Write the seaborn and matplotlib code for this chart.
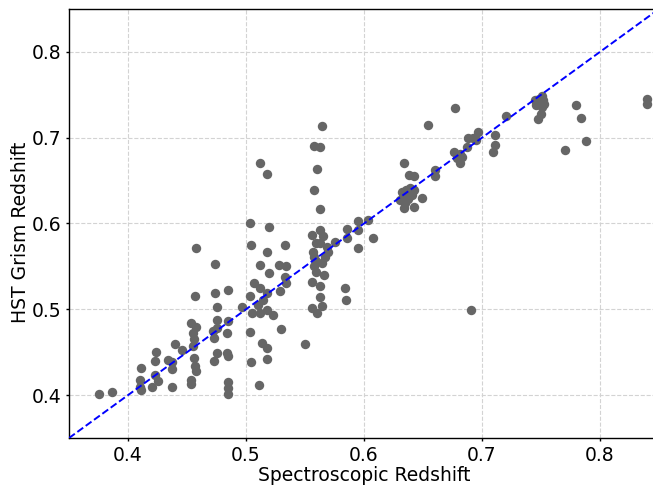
import matplotlib
matplotlib.use("Agg")
import matplotlib.pyplot as plt
import seaborn as sns
import pandas as pd

# Redshifts (spec-z vs grism-z)
spec_z = [
    0.375, 0.3865, 0.411, 0.410, 0.410, 0.411, 0.420, 0.423, 0.424, 0.423,
    0.425, 0.434, 0.437, 0.437, 0.440, 0.446, 0.437, 0.453, 0.458, 0.455,
    0.456, 0.455, 0.456, 0.457, 0.458, 0.453, 0.453, 0.457, 0.458, 0.474,
    0.474, 0.475, 0.475, 0.475, 0.472, 0.473, 0.475, 0.473, 0.485, 0.485,
    0.484, 0.484, 0.485, 0.485, 0.485, 0.485,
    0.497, 0.503, 0.5035, 0.5045, 0.5035, 0.5045, 0.507, 0.505, 0.510, 0.512,
    0.512, 0.514, 0.512, 0.511, 0.512, 0.518, 0.5195, 0.518, 0.5195, 0.518,
    0.518, 0.5135, 0.518, 0.518, 0.523, 0.528, 0.529, 0.5295, 0.533, 0.534,
    0.533, 0.534, 0.550,
    0.558, 0.5625, 0.564, 0.560, 0.5575, 0.563, 0.556, 0.563, 0.565, 0.559,
    0.5625, 0.557, 0.5575, 0.559, 0.5575, 0.559, 0.564, 0.567, 0.5695, 0.569,
    0.575, 0.5665, 0.556, 0.5625, 0.5625, 0.564, 0.556, 0.560, 0.584, 0.585,
    0.586, 0.586, 0.595, 0.595, 0.595, 0.6035, 0.608,
    0.634, 0.638, 0.642, 0.632, 0.636, 0.639, 0.642, 0.633, 0.637, 0.641,
    0.635, 0.634, 0.642, 0.649, 0.6305, 0.6605, 0.6605,
    0.677, 0.6545, 0.6765, 0.681, 0.6785, 0.681, 0.683, 0.6875, 0.688, 0.692,
    0.697, 0.695, 0.711, 0.711, 0.709, 0.720, 0.691,
    0.7447, 0.748, 0.751, 0.752, 0.746, 0.751, 0.750, 0.7475, 0.7525,
    0.780, 0.784, 0.788, 0.770, 0.8397, 0.8397,
]
grism_z = [
    0.401, 0.404, 0.432, 0.418, 0.410, 0.406, 0.410, 0.4395, 0.450, 0.424,
    0.417, 0.441, 0.430, 0.410, 0.460, 0.452, 0.438, 0.484, 0.479, 0.472,
    0.465, 0.457, 0.443, 0.434, 0.428, 0.418, 0.413, 0.516, 0.572, 0.553,
    0.519, 0.503, 0.488, 0.478, 0.475, 0.467, 0.449, 0.4395, 0.522, 0.486,
    0.472, 0.449, 0.445, 0.415, 0.4085, 0.401,
    0.503, 0.473, 0.516, 0.439, 0.601, 0.5755, 0.5305, 0.496, 0.505, 0.552,
    0.5245, 0.511, 0.496, 0.412, 0.670, 0.658, 0.596, 0.567, 0.542, 0.519,
    0.4995, 0.461, 0.455, 0.4415, 0.493, 0.552, 0.521, 0.4765, 0.575, 0.551,
    0.538, 0.531, 0.459,
    0.690, 0.689, 0.714, 0.664, 0.639, 0.617, 0.587, 0.592, 0.585, 0.577,
    0.577, 0.567, 0.561, 0.556, 0.550, 0.544, 0.554, 0.561, 0.567, 0.573,
    0.579, 0.5405, 0.532, 0.527, 0.514, 0.504, 0.5015, 0.4955, 0.525, 0.511,
    0.593, 0.583, 0.603, 0.592, 0.572, 0.604, 0.5835,
    0.6705, 0.656, 0.6555, 0.637, 0.639, 0.641, 0.639, 0.631, 0.629, 0.633,
    0.6235, 0.6175, 0.619, 0.630, 0.627, 0.662, 0.655,
    0.734, 0.715, 0.683, 0.681, 0.676, 0.670, 0.678, 0.689, 0.700, 0.700,
    0.7065, 0.697, 0.7035, 0.692, 0.6835, 0.725, 0.4995,
    0.7435, 0.7455, 0.749, 0.7435, 0.7375, 0.7357, 0.728, 0.7215, 0.7395,
    0.7385, 0.723, 0.6966, 0.6855, 0.7455, 0.7395,
]

df = pd.DataFrame({"spec": spec_z, "grism": grism_z})

sns.set_style("white")
plt.rcParams["font.family"] = ["DejaVu Sans"]
plt.rcParams["text.color"] = "black"
plt.rcParams["axes.labelcolor"] = "black"
plt.rcParams["xtick.color"] = "black"
plt.rcParams["ytick.color"] = "black"

fig = plt.figure(figsize=(6.53, 4.87), dpi=100)
# the right edge of the axes runs just past the figure, like the reference
ax = fig.add_axes([0.1057, 0.1006, 0.9035, 0.881])

ax.grid(True, linestyle="--", color="#d3d3d3", linewidth=0.8)
ax.set_axisbelow(True)

sns.scatterplot(data=df, x="spec", y="grism", color="#666666", s=46,
                linewidth=0, ax=ax, zorder=2)

lims = [0.35, 0.85]
ax.plot(lims, lims, linestyle="--", color="blue", linewidth=1.4, zorder=3)

ax.set_xlim(0.35, 0.85)
ax.set_ylim(0.35, 0.85)
ax.set_xticks([0.4, 0.5, 0.6, 0.7, 0.8])
ax.set_yticks([0.4, 0.5, 0.6, 0.7, 0.8])
ax.tick_params(axis="both", labelsize=13.5, direction="out", length=2.5,
               width=1, pad=3, left=True, bottom=True)
for sp in ax.spines.values():
    sp.set_color("black")
    sp.set_linewidth(1.0)

ax.set_xlabel("Spectroscopic Redshift", fontsize=13.5)
ax.set_ylabel("HST Grism Redshift", fontsize=13.5)
ax.xaxis.set_label_coords(0.5, -0.066)
ax.yaxis.set_label_coords(-0.066, 0.479)

fig.savefig("out.png", dpi=100)
